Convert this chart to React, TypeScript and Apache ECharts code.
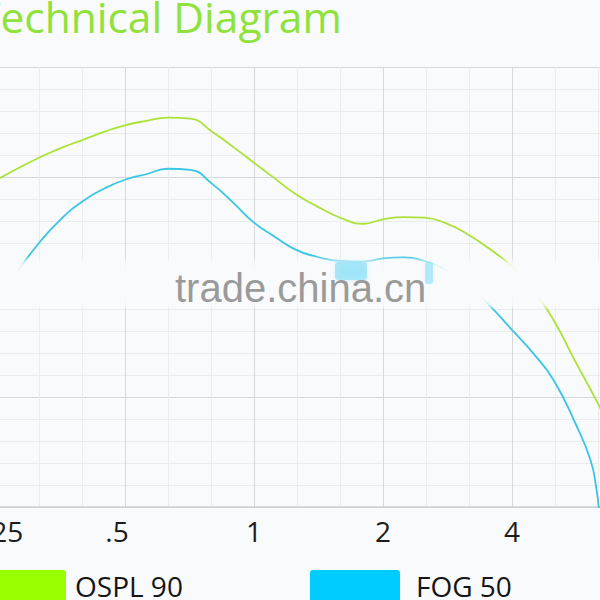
import React, { useEffect, useRef } from "react";
import * as echarts from "echarts";

// Frequency response of the hearing instrument, frequencies in kHz, levels in dB SPL
const TITLE = "Technical Diagram";
const FREQ_LABELS = [".25", ".5", "1", "2", "4", "8"];
const SERIES_NAMES = ["OSPL 90", "FOG 50"];

const OSPL_FREQ = [
  0.25, 0.28, 0.315, 0.355, 0.4, 0.45, 0.5, 0.56, 0.63, 0.71, 0.8, 0.9, 1.0,
  1.12, 1.25, 1.4, 1.6, 1.8, 2.0, 2.24, 2.5, 2.8, 3.15, 3.55, 4.0, 4.5, 5.0,
  5.6, 6.3, 7.1,
];
const OSPL_90 = [
  119.4, 121.5, 123.5, 125.3, 126.8, 128.3, 129.4, 130.2, 130.8, 130.6, 128.2,
  125.3, 122.6, 119.7, 116.9, 114.7, 112.5, 111.5, 112.3, 112.7, 112.6, 111.6,
  109.6, 106.9, 103.7, 99.3, 94.0, 86.7, 79.3, 71.3,
];

const FOG_FREQ = [
  0.28, 0.315, 0.355, 0.4, 0.45, 0.5, 0.56, 0.63, 0.71, 0.8, 0.9, 1.0, 1.12,
  1.25, 1.4, 1.6, 1.8, 2.0, 2.24, 2.5, 2.8, 3.15, 3.55, 4.0, 4.5, 5.0, 5.6,
  6.1, 6.3, 6.4,
];
const FOG_50 = [
  102.7, 108.0, 112.4, 115.7, 118.0, 119.5, 120.5, 121.5, 121.3, 118.7, 115.1,
  111.7, 109.1, 106.8, 105.5, 104.7, 104.6, 105.2, 105.4, 104.7, 103.1, 100.5,
  96.6, 92.2, 87.8, 83.1, 75.5, 68.5, 63.1, 58.4,
];

const GREEN_LINE = "#ace236";
const GREEN_KEY = "#99ff00";
const CYAN_LINE = "#38c6e4";
const CYAN_KEY = "#00ccff";
const FONT = "'Open Sans', 'Noto Sans', sans-serif";

// small rounded rectangle used as the legend key
const KEY_ICON =
  "path://M3,0 H87 Q90,0 90,3 V29 Q90,32 87,32 H3 Q0,32 0,29 V3 Q0,0 3,0 Z";

const octave = (f: number) => Math.log2(f);

function buildOption() {
  const labelStyle = {
    fontFamily: FONT,
    fontSize: 28,
    lineHeight: 28,
    color: "#1c1c1c",
  };
  const legendText = (pad: number) => ({
    fontFamily: FONT,
    fontSize: 28,
    lineHeight: 24,
    color: "#151515",
    padding: [0, 0, 0, pad],
  });
  return {
    animation: false,
    backgroundColor: "transparent",
    title: {
      text: TITLE,
      left: 17,
      top: -5,
      padding: 0,
      textStyle: {
        fontFamily: FONT,
        fontSize: 42.5,
        lineHeight: 42.5,
        fontWeight: "normal",
        color: "#8fe23b",
      },
    },
    grid: { left: 36, top: 67, width: 645, height: 440 },
    xAxis: {
      type: "value",
      min: -2,
      max: 3,
      interval: 1,
      axisLine: { show: true, lineStyle: { color: "#cdd0d4", width: 1.5 } },
      axisTick: { show: false },
      splitLine: { show: true, lineStyle: { color: "#d6d8dc", width: 1 } },
      minorTick: { show: false, splitNumber: 3 },
      minorSplitLine: { show: true, lineStyle: { color: "#eaecef", width: 1 } },
      axisLabel: {
        margin: 10,
        showMaxLabel: false,
        ...labelStyle,
        formatter: (v: number) => {
          const i = Math.round(v) + 2;
          const t = FREQ_LABELS[i] ?? "";
          if (i === 0) return `{lead|${t}}`;
          if (i === 1) return `{half|${t}}`;
          return `{n|${t}}`;
        },
        rich: {
          lead: { ...labelStyle, padding: [0, 0, 0, 15] },
          half: { ...labelStyle, padding: [0, 16, 0, 0] },
          n: { ...labelStyle },
        },
      },
    },
    yAxis: {
      type: "value",
      min: 60,
      max: 140,
      interval: 20,
      axisLine: { show: false },
      axisTick: { show: false },
      axisLabel: { show: false },
      splitLine: { show: true, lineStyle: { color: "#d6d8dc", width: 1 } },
      minorTick: { show: false, splitNumber: 5 },
      minorSplitLine: { show: true, lineStyle: { color: "#eaecef", width: 1 } },
    },
    legend: [
      {
        data: [{ name: SERIES_NAMES[0], itemStyle: { color: GREEN_KEY } }],
        left: 16,
        top: 570,
        padding: 0,
        icon: KEY_ICON,
        itemWidth: 90,
        itemHeight: 32,
        selectedMode: false,
        textStyle: legendText(4),
      },
      {
        data: [{ name: SERIES_NAMES[1], itemStyle: { color: CYAN_KEY } }],
        left: 350,
        top: 570,
        padding: 0,
        icon: KEY_ICON,
        itemWidth: 90,
        itemHeight: 32,
        selectedMode: false,
        textStyle: legendText(11),
      },
    ],
    series: [
      {
        type: "line",
        name: SERIES_NAMES[0],
        data: OSPL_FREQ.map((f, i) => [octave(f), OSPL_90[i]]),
        smooth: 0.5,
        symbol: "none",
        clip: true,
        itemStyle: { color: GREEN_KEY },
        lineStyle: { color: GREEN_LINE, width: 1.8 },
        z: 3,
      },
      {
        type: "line",
        name: SERIES_NAMES[1],
        data: FOG_FREQ.map((f, i) => [octave(f), FOG_50[i]]),
        smooth: 0.5,
        symbol: "none",
        clip: true,
        itemStyle: { color: CYAN_KEY },
        lineStyle: { color: CYAN_LINE, width: 1.8 },
        z: 3,
      },
    ],
    graphic: [
      {
        type: "rect",
        z: 50,
        silent: true,
        shape: { x: 0, y: 256, width: 720, height: 54 },
        style: {
          fill: {
            type: "linear",
            x: 0,
            y: 0,
            x2: 0,
            y2: 1,
            colorStops: [
              { offset: 0, color: "rgba(249,250,252,0)" },
              { offset: 0.14, color: "rgba(249,250,252,0.85)" },
              { offset: 0.35, color: "rgba(249,250,252,1)" },
              { offset: 0.74, color: "rgba(249,250,252,1)" },
              { offset: 0.9, color: "rgba(249,250,252,0.8)" },
              { offset: 1, color: "rgba(249,250,252,0)" },
            ],
          },
        },
      },
      {
        type: "rect",
        z: 51,
        silent: true,
        shape: { x: 375, y: 262, width: 32, height: 18, r: 3 },
        style: { fill: "rgba(90,212,244,0.45)", shadowBlur: 6, shadowColor: "rgba(90,212,244,0.45)" },
      },
      {
        type: "rect",
        z: 51,
        silent: true,
        shape: { x: 465, y: 262, width: 8, height: 22, r: 2 },
        style: { fill: "rgba(90,212,244,0.38)", shadowBlur: 5, shadowColor: "rgba(90,212,244,0.35)" },
      },
      {
        type: "text",
        z: 52,
        silent: true,
        x: 215,
        y: 288,
        style: {
          text: "trade.china.cn",
          font: "40px 'Liberation Sans', Arial, sans-serif",
          fill: "#9a9a9a",
          verticalAlign: "middle",
          align: "left",
        },
      },
    ],
  };
}

export default function App() {
  const ref = useRef<HTMLDivElement | null>(null);

  useEffect(() => {
    if (!ref.current) return;
    const chart = echarts.init(ref.current, undefined, { renderer: "svg" });
    chart.setOption(buildOption() as any);
    return () => chart.dispose();
  }, []);

  return (
    <div
      style={{
        position: "fixed",
        left: 0,
        top: 0,
        width: 600,
        height: 600,
        overflow: "hidden",
        background: "#f9fafb",
      }}
    >
      <div
        ref={ref}
        style={{ position: "absolute", left: -40, top: 0, width: 720, height: 640 }}
      />
    </div>
  );
}
